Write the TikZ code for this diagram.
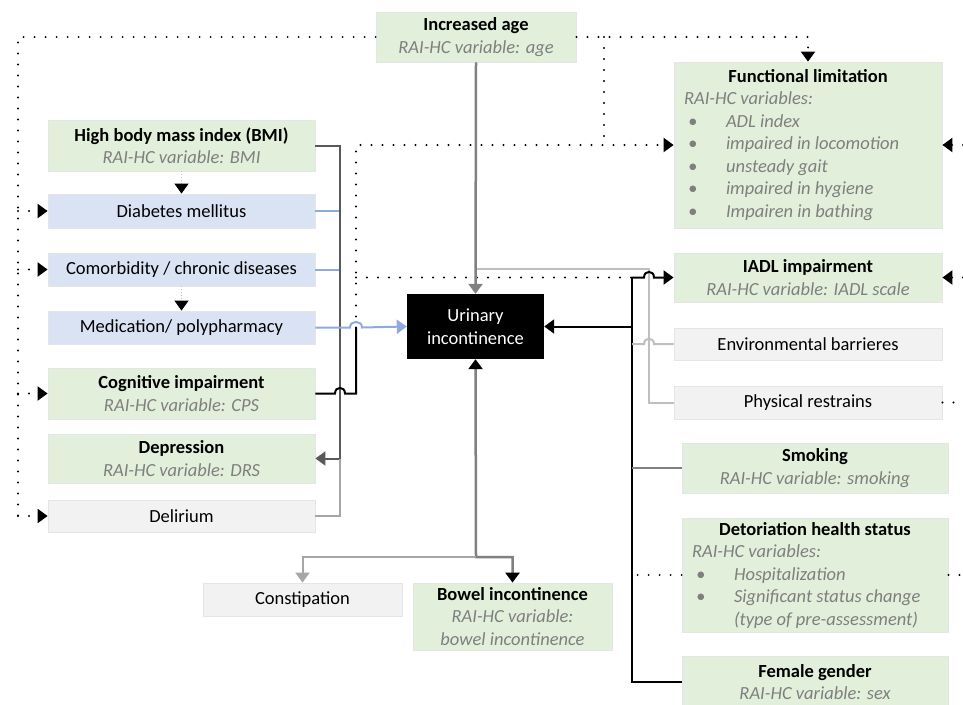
\documentclass[tikz,border=0pt]{standalone}
\usepackage{fontspec}
\setmainfont{Carlito}
\usetikzlibrary{arrows.meta}
\definecolor{boxgreen}{HTML}{E2EFDA}
\definecolor{boxblue}{HTML}{DAE3F3}
\definecolor{boxgrey}{HTML}{F2F2F2}
\definecolor{subgrey}{HTML}{7F7F7F}
\definecolor{linkblue}{HTML}{8FAADC}
\newcommand{\rai}[1]{{\color{subgrey}\itshape #1}}
\newcommand{\riskitem}[1]{\hspace*{4pt}\makebox[38pt][l]{\textbullet}#1\par}

\begin{document}
\begin{tikzpicture}[x=1pt, y=-1pt,
  every node/.style={font=\fontsize{18.5}{22.5}\selectfont, inner sep=0pt},
  >={Triangle[length=10pt,width=14pt]},
  factor/.style={draw=black!10, line width=0.8pt, minimum width=267pt, align=center},
  greenbox/.style={factor, fill=boxgreen},
  bluebox/.style={factor, fill=boxblue},
  greybox/.style={factor, fill=boxgrey},
  dotlink/.style={line width=2.2pt, dash pattern=on 0pt off 11pt, line cap=round},
  faintlink/.style={draw=black!25, line width=1pt, dash pattern=on 1pt off 2pt},
  darklink/.style={draw=black!65, line width=2pt},
  bluelink/.style={draw=linkblue, line width=2pt},
  greylink/.style={draw=black!50, line width=2pt},
  lightlink/.style={draw=black!25, line width=2pt},
  buslink/.style={draw=black, line width=2pt}]
  \useasboundingbox (0,0) rectangle (963,704);
  \fill[white] (0,0) rectangle (963,704);
  \clip (0,0) rectangle (963,704);

  \node[greenbox, minimum width=200pt, minimum height=50pt] (age) at (476,37) {\textbf{Increased age}\\\rai{RAI-HC variable: age}};
  \node[greenbox, minimum height=51pt] (bmi) at (181.5,145.5) {\textbf{High body mass index (BMI)}\\\rai{RAI-HC variable: BMI}};
  \node[bluebox, minimum height=34pt] (diab) at (181.5,211) {Diabetes mellitus};
  \node[bluebox, minimum height=33pt] (comorb) at (181.5,269.5) {Comorbidity / chronic diseases};
  \node[bluebox, minimum height=33pt] (medic) at (181.5,327.5) {Medication/ polypharmacy};
  \node[greenbox, minimum height=51pt] (cogn) at (181.5,393.5) {\textbf{Cognitive impairment}\\\rai{RAI-HC variable: CPS}};
  \node[greenbox, minimum height=49pt] (depr) at (181.5,458.5) {\textbf{Depression}\\\rai{RAI-HC variable: DRS}};
  \node[greybox, minimum height=32pt] (delir) at (181.5,516) {Delirium};
  \node[fill=black, text=white, minimum width=137pt, minimum height=65pt, align=center] (ui) at (475.5,326.5) {Urinary\\incontinence};
  \node[greybox, minimum width=199pt, minimum height=33pt] (consti) at (302.5,599.5) {Constipation};
  \node[greenbox, minimum width=199pt, minimum height=67pt] (bowel) at (512.5,616.5) {\textbf{Bowel incontinence}\\\rai{RAI-HC variable:}\\\rai{bowel incontinence}};
  \node[greenbox, minimum width=268pt, minimum height=166pt] (funclim) at (808,145) {\begin{minipage}{248pt}\centering\textbf{Functional limitation}\par\raggedright\color{subgrey}\itshape RAI-HC variables:\par
    \riskitem{ADL index}\riskitem{impaired in locomotion}\riskitem{unsteady gait}\riskitem{impaired in hygiene}\riskitem{Impairen in bathing}\end{minipage}};
  \node[greenbox, minimum width=268pt, minimum height=49pt] (iadl) at (808,277.5) {\textbf{IADL impairment}\\\rai{RAI-HC variable: IADL scale}};
  \node[greybox, minimum width=268pt, minimum height=32pt] (envir) at (808,344) {Environmental barrieres};
  \node[greybox, minimum width=268pt, minimum height=33pt] (phys) at (808,402.5) {Physical restrains};
  \node[greenbox, minimum width=266pt, minimum height=50pt] (smok) at (815,468) {\textbf{Smoking}\\\rai{RAI-HC variable: smoking}};
  \node[greenbox, minimum width=266pt, minimum height=114pt] (deter) at (815,575) {\begin{minipage}{246pt}\centering\textbf{Detoriation health status}\par\raggedright\color{subgrey}\itshape RAI-HC variables:\par
    \riskitem{Hospitalization}\riskitem{Significant status change}\hspace*{42pt}(type of pre-assessment)\end{minipage}};
  \node[greenbox, minimum width=266pt, minimum height=52pt] (female) at (815,682) {\textbf{Female gender}\\\rai{RAI-HC variable: sex}};

  \coordinate (leftbus) at (18,37);
  \coordinate (cognbus) at (356,327.5);
  \coordinate (rightbus) at (632,277.5);
  \coordinate (bowelknee) at (476,557);

  \draw[dotlink] (age.west) -- (leftbus) -- (leftbus |- delir.west);
  \foreach \n in {diab,comorb,cogn,delir}
    \draw[dotlink,->] (leftbus |- \n.west) -- (\n.west);
  \draw[dotlink,->] (age.east) -- (funclim.north |- age.east) -- (funclim.north);
  \draw[dotlink] (604,37) -- (604,145);
  \draw[faintlink,-{Triangle[length=10pt,width=14pt,color=black]}] (bmi.south) -- (diab.north);
  \draw[faintlink,-{Triangle[length=10pt,width=14pt,color=black]}] (comorb.south) -- (medic.north);

  \draw[bluelink] (diab.east) -- (340,211) -- (340,327.5);
  \draw[bluelink] (comorb.east) -- (340,269.5);
  \draw[darklink,->] (bmi.east) -- (340,145.5) -- (340,458.5) -- (depr.east);
  \draw[lightlink, draw=black!35] (delir.east) -- (340,516) -- (340,458.5);
  \draw[buslink] (cogn.east) -- (335,393.5) .. controls (335,386) and (345,386) .. (345,393.5) -- (356,393.5) -- (cognbus);
  \draw[bluelink,->] (medic.east) -- (350,327.5) .. controls (350,320) and (362,320) .. (362,327.5) -- (ui.west);
  \draw[dotlink,->] (cognbus) -- (356,145) -- (funclim.west);
  \draw[dotlink] (356,277.5) -- (rightbus);

  \draw[greylink, line width=2.5pt, ->] (age.south) -- (ui.north);
  \draw[lightlink] (477,269) -- (649,269) -- (649,402.5) -- (phys.west);
  \draw[buslink] (rightbus) -- (rightbus |- female.west) -- (female.west);
  \draw[buslink,->] (rightbus) -- (644,277.5) .. controls (644,270) and (654,270) .. (654,277.5) -- (iadl.west);
  \draw[buslink,->] (rightbus |- ui.east) -- (ui.east);
  \draw[lightlink] (envir.west) -- (654,344) .. controls (654,337) and (644,337) .. (644,344) -- (rightbus |- envir.west);
  \draw[greylink] (smok.west) -- (rightbus |- smok.west);
  \draw[dotlink] (deter.west) -- (rightbus |- deter.west);

  \draw[dotlink,->] (963,145) -- (funclim.east);
  \draw[dotlink,->] (963,277.5) -- (iadl.east);
  \draw[dotlink] (phys.east) -- (963,402.5);
  \draw[dotlink] (deter.east) -- (963,575);

  \draw[greylink, line width=2.5pt, {Triangle[length=10pt,width=14pt,color=black]}-{Triangle[length=10pt,width=14pt,color=black]}] (ui.south) -- (bowelknee) -- (bowel.north |- bowelknee) -- (bowel.north);
  \draw[lightlink, draw=black!35, ->] (bowelknee) -- (consti.north |- bowelknee) -- (consti.north);
\end{tikzpicture}
\end{document}
